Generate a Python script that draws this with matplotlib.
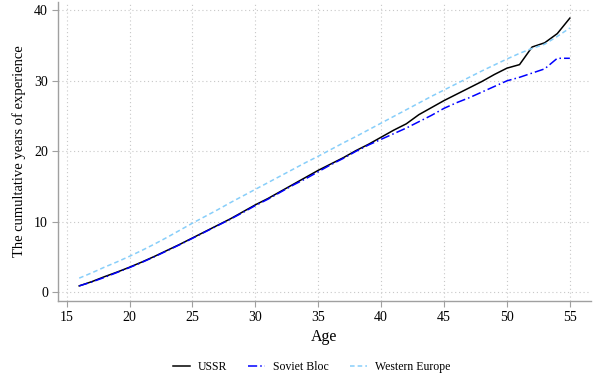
import numpy as np
import matplotlib
matplotlib.use("Agg")
import matplotlib.pyplot as plt

plt.rcParams['font.family'] = ['Liberation Serif', 'DejaVu Serif']

# Data
ages = list(range(16, 56))
ussr = [0.9, 1.5, 2.2, 2.85, 3.55, 4.3, 5.1, 5.95, 6.8, 7.7,
        8.6, 9.5, 10.4, 11.4, 12.4, 13.3, 14.3, 15.3, 16.3, 17.3,
        18.2, 19.1, 20.1, 21.0, 22.0, 23.0, 23.9, 25.2, 26.2, 27.2,
        28.1, 29.0, 29.9, 30.9, 31.8, 32.3, 34.8, 35.4, 36.7, 38.9]
soviet_bloc = [0.9, 1.45, 2.1, 2.8, 3.5, 4.25, 5.05, 5.9, 6.75, 7.65,
               8.55, 9.45, 10.35, 11.3, 12.3, 13.2, 14.2, 15.2, 16.1, 17.1,
               18.1, 19.0, 20.0, 20.9, 21.7, 22.5, 23.3, 24.2, 25.1, 26.1,
               26.9, 27.6, 28.4, 29.2, 30.0, 30.5, 31.1, 31.7, 33.2, 33.2]
western_europe = [2.0, 2.75, 3.55, 4.3, 5.1, 5.95, 6.85, 7.8, 8.8, 9.8,
                  10.75, 11.7, 12.7, 13.65, 14.6, 15.55, 16.5, 17.45, 18.4, 19.3,
                  20.25, 21.2, 22.1, 23.05, 24.0, 24.95, 25.9, 26.85, 27.8, 28.7,
                  29.6, 30.5, 31.4, 32.25, 33.1, 33.9, 34.6, 35.2, 36.3, 37.5]

xticks = [15, 20, 25, 30, 35, 40, 45, 50, 55]
yticks = [0, 10, 20, 30, 40]

fig = plt.figure(figsize=(5.96, 3.83), dpi=100)
ax = fig.add_axes([0.097, 0.214, 0.895, 0.781])

ax.plot(ages, ussr, color='black', lw=1.1, label='USSR')
ax.plot(ages, soviet_bloc, color='#0000ff', lw=1.1,
        dashes=(6, 2, 1, 2), label='Soviet Bloc')
ax.plot(ages, western_europe, color='#87cefa', lw=1.1,
        dashes=(3, 2), label='Western Europe')

ax.set_xlim(14.3, 56.7)
ax.set_ylim(-1.25, 41.2)
ax.set_xticks(xticks)
ax.set_yticks(yticks)
ax.grid(True, ls=(0, (1, 2.5)), color='#c8c8c8', lw=0.8)

for s in ['top', 'right']:
    ax.spines[s].set_visible(False)
for s in ['left', 'bottom']:
    ax.spines[s].set_color('#a0a0a0')
    ax.spines[s].set_linewidth(1.0)
ax.tick_params(colors='#a0a0a0', labelcolor='black', labelsize=10,
               length=4, direction='out', pad=3)

ax.set_xlabel('Age', fontsize=11.5, labelpad=4)
ax.set_ylabel('The cumultative years of experience', fontsize=10.5, labelpad=6)

# legend centred under the plot, near the bottom edge of the figure
fig.legend(loc='center', bbox_to_anchor=(0.523, 0.042), ncol=3,
           frameon=False, fontsize=8.5, handlelength=1.4, handletextpad=0.7,
           columnspacing=1.8)

fig.savefig('out.png', dpi=100)
